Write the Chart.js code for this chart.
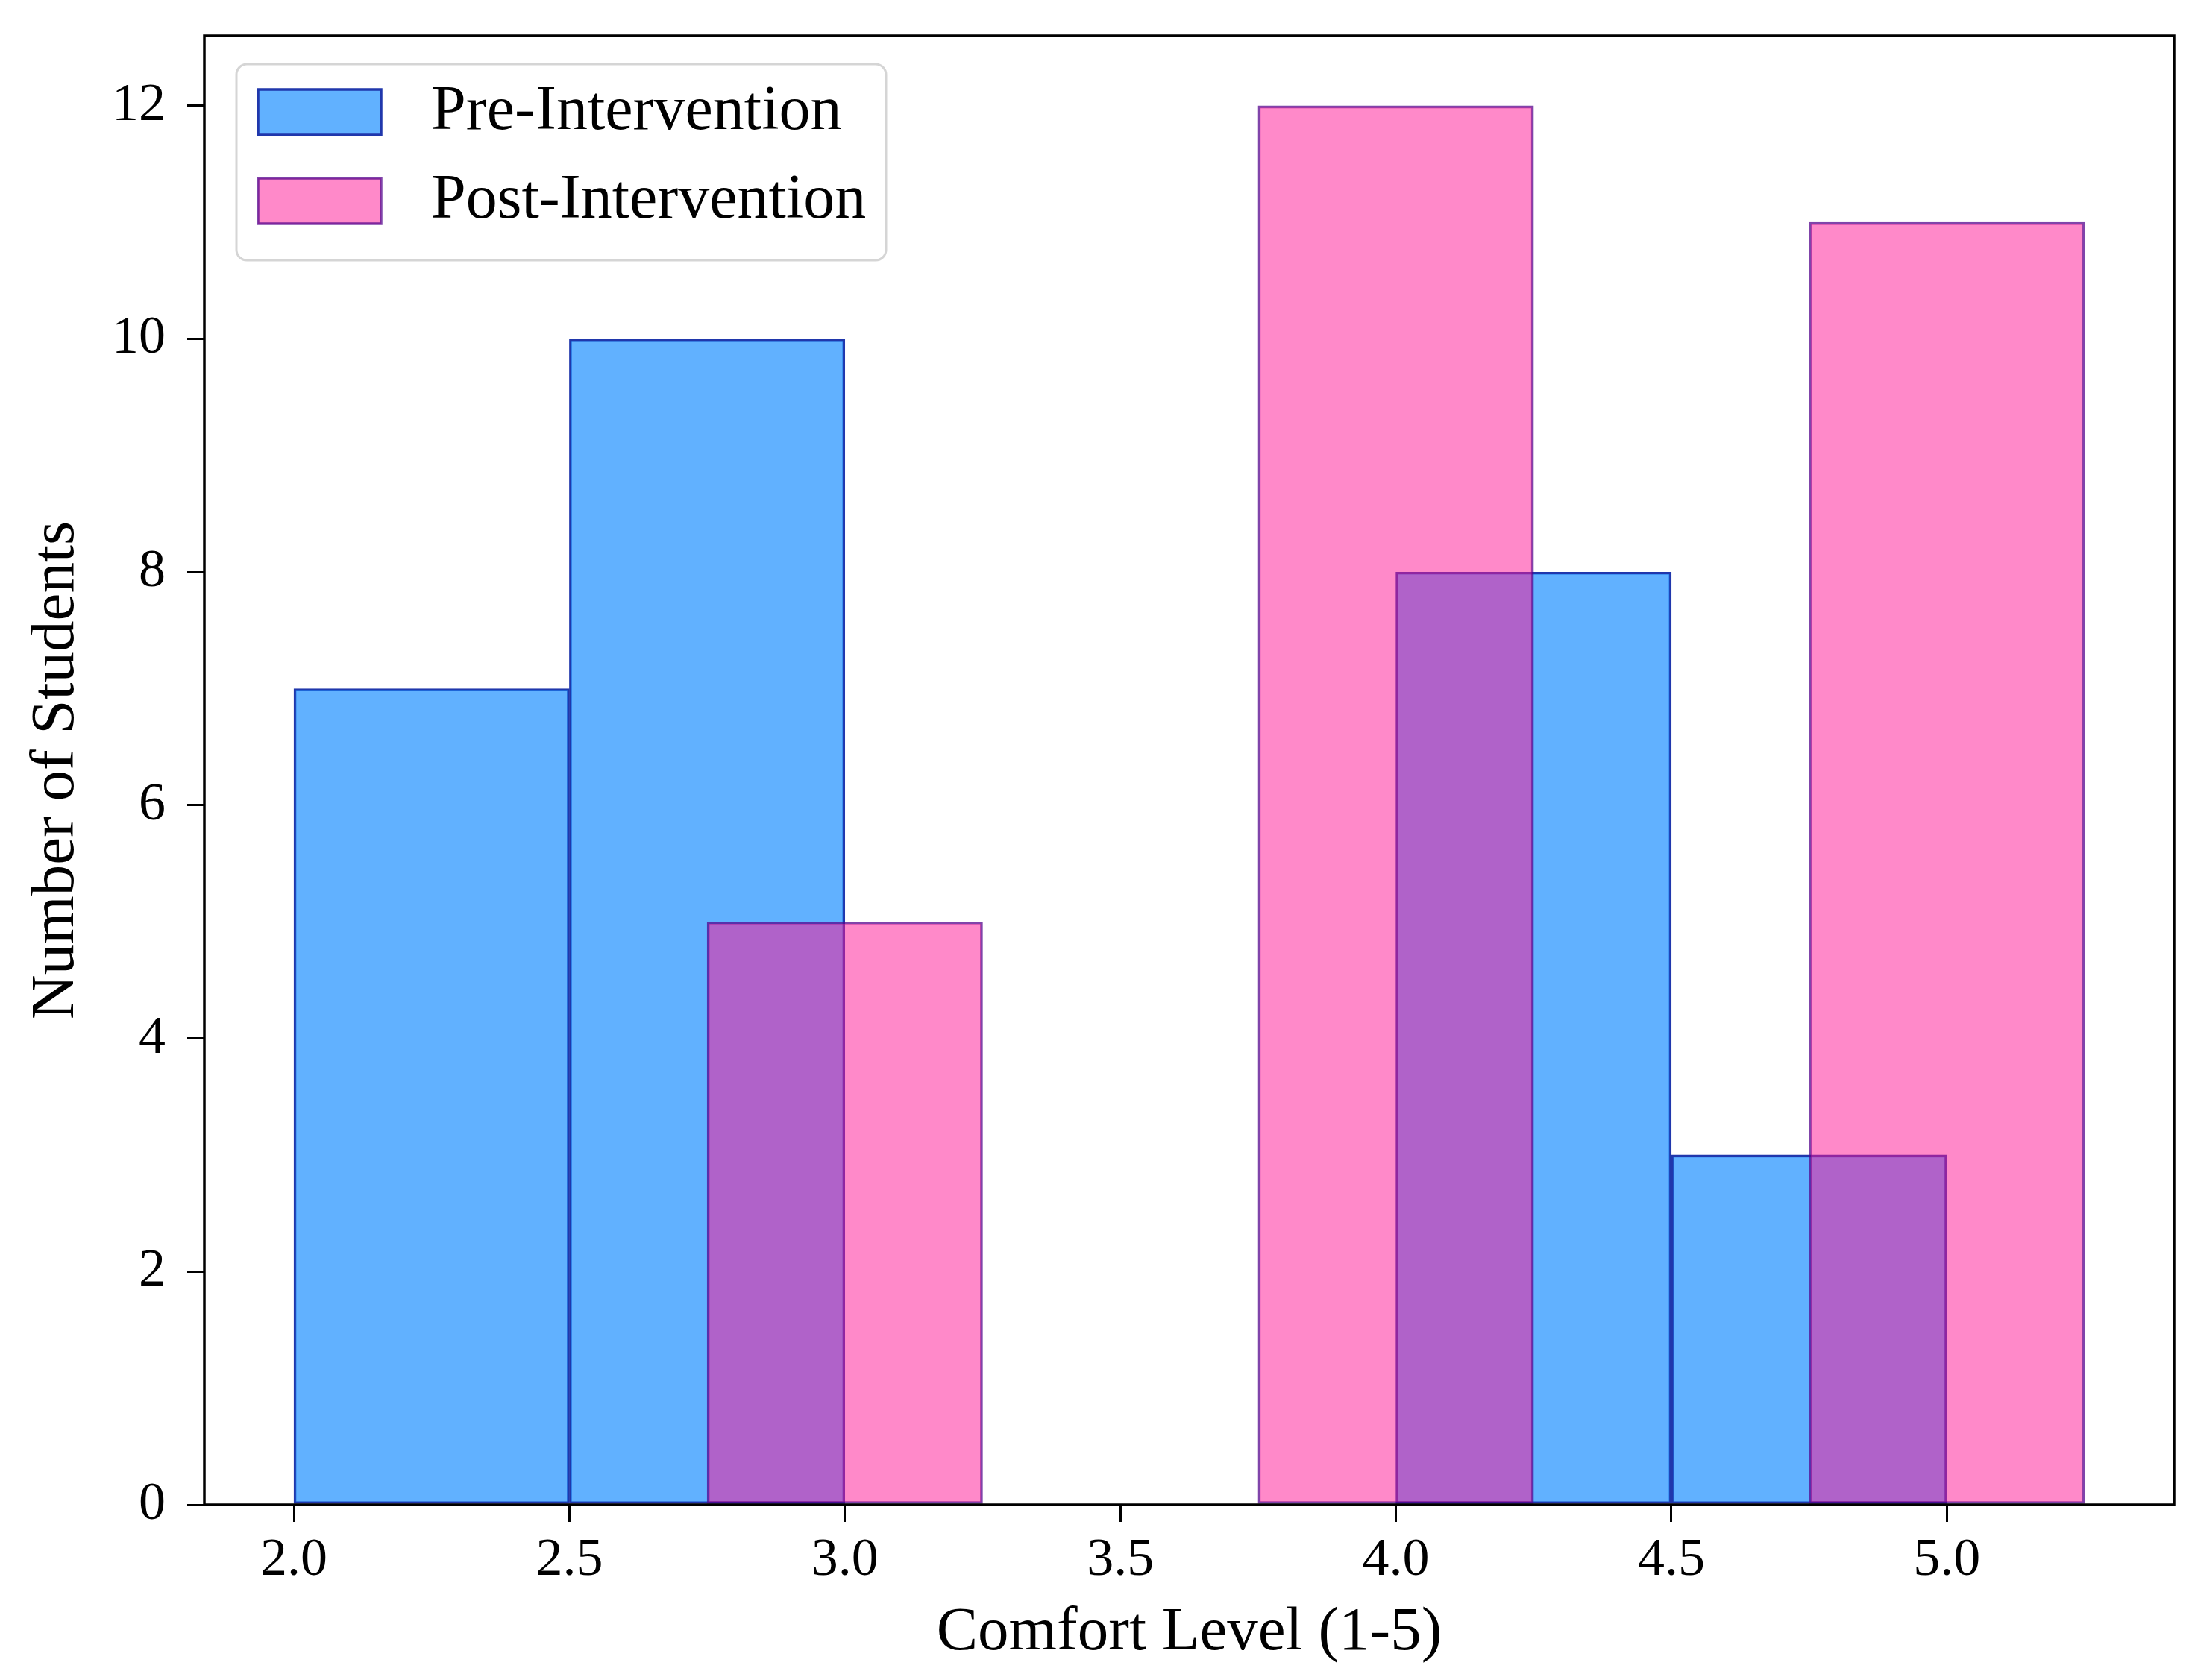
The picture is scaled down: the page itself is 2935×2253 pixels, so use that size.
<!DOCTYPE html>
<html>
<head>
<meta charset="utf-8">
<script src="https://cdn.jsdelivr.net/npm/chart.js@4.4.1/dist/chart.umd.min.js"></script>
<style>
  html, body { margin: 0; padding: 0; background: #fff; }
  #wrap { width: 2935px; height: 2253px; position: relative; }
</style>
</head>
<body>
<div id="wrap"><canvas id="myChart"></canvas></div>
<script>
// histogram bins (edges) and counts
const preBinEdges = [2.0, 2.5, 3.0, 3.5, 4.0, 4.5, 5.0];
const preCounts = [7, 10, 0, 0, 8, 3];
const postBinEdges = [2.75, 3.25, 3.75, 4.25, 4.75, 5.25];
const postCounts = [5, 0, 12, 0, 11];
const seriesLabels = ['Pre-Intervention', 'Post-Intervention'];
const xTickValues = [2.0, 2.5, 3.0, 3.5, 4.0, 4.5, 5.0];
const yTickValues = [0, 2, 4, 6, 8, 10, 12];

const serif = '"Liberation Serif", "Times New Roman", serif';

// one bar per bin, placed at the bin centre
const toBars = (edges, counts) => counts.map((c, i) => ({ x: (edges[i] + edges[i + 1]) / 2, y: c }));

// box round the plot + legend in the upper left
const frameAndLegend = {
    id: 'frameAndLegend',
    afterDatasetsDraw(chart) {
        const { ctx, chartArea: a } = chart;
        ctx.save();
        ctx.strokeStyle = '#000';
        ctx.lineWidth = 3.5;
        ctx.strokeRect(a.left, a.top, a.right - a.left, a.bottom - a.top);

        const bx = a.left + 43, by = a.top + 38, bw = 871, bh = 263;
        ctx.beginPath();
        ctx.roundRect(bx, by, bw, bh, 14);
        ctx.fillStyle = 'rgba(255,255,255,0.8)';
        ctx.fill();
        ctx.strokeStyle = '#d5d5d5';
        ctx.lineWidth = 3;
        ctx.stroke();

        ctx.font = '84px ' + serif;
        ctx.textBaseline = 'middle';
        ctx.textAlign = 'left';
        chart.data.datasets.forEach((ds, i) => {
            const py = by + 34 + i * 119;
            ctx.fillStyle = ds.backgroundColor;
            ctx.fillRect(bx + 29, py, 165, 61);
            ctx.strokeStyle = ds.borderColor;
            ctx.lineWidth = 3.5;
            ctx.strokeRect(bx + 29, py, 165, 61);
            ctx.fillStyle = '#000';
            ctx.fillText(ds.label, bx + 261, py + 31);
        });
        ctx.restore();
    }
};

// fixed axis sizes, no extra room for end labels
const fixAxis = (w, h) => s => {
    if (w !== null) s.width = w;
    if (h !== null) s.height = h;
    s.paddingTop = 0;
    s.paddingBottom = 0;
    s.paddingLeft = 0;
    s.paddingRight = 0;
};

const ctx = document.getElementById('myChart').getContext('2d');
new Chart(ctx, {
    type: 'bar',
    data: {
        datasets: [
            {
                label: seriesLabels[0],
                data: toBars(preBinEdges, preCounts),
                backgroundColor: 'rgba(30,144,255,0.7)',
                borderColor: 'rgb(32,55,172)',
                borderWidth: 3,
                borderSkipped: false,
                order: 1
            },
            {
                label: seriesLabels[1],
                data: toBars(postBinEdges, postCounts),
                backgroundColor: 'rgba(255,20,147,0.5)',
                borderColor: 'rgba(85,5,141,0.75)',
                borderWidth: 3,
                borderSkipped: false,
                order: 0
            }
        ]
    },
    options: {
        responsive: true,
        maintainAspectRatio: false,
        devicePixelRatio: 1,
        animation: false,
        barThickness: 'flex',
        barPercentage: 1,
        categoryPercentage: 1,
        layout: { padding: { top: 48, right: 20, left: 0, bottom: 0 } },
        plugins: {
            legend: { display: false },
            tooltip: { enabled: false }
        },
        scales: {
            x: {
                type: 'linear',
                min: 1.8375,
                max: 5.4125,
                offset: false,
                stacked: true,
                afterFit: fixAxis(null, 235),
                afterBuildTicks: s => { s.ticks = xTickValues.map(v => ({ value: v })); },
                grid: { display: true, offset: false, drawOnChartArea: false, drawTicks: true, tickLength: 23, color: '#000', lineWidth: 3 },
                border: { display: false },
                ticks: {
                    padding: 9,
                    color: '#000',
                    font: { family: serif, size: 72 },
                    maxRotation: 0,
                    callback: v => Number(v).toFixed(1)
                },
                title: {
                    display: true,
                    text: 'Comfort Level (1-5)',
                    color: '#000',
                    font: { family: serif, size: 83 },
                    padding: { top: 0, bottom: 13 }
                }
            },
            y: {
                min: 0,
                max: 12.6,
                stacked: false,
                afterFit: fixAxis(274, null),
                afterBuildTicks: s => { s.ticks = yTickValues.map(v => ({ value: v })); },
                grid: { display: true, drawOnChartArea: false, drawTicks: true, tickLength: 23, color: '#000', lineWidth: 3 },
                border: { display: false },
                ticks: {
                    padding: 29,
                    color: '#000',
                    font: { family: serif, size: 72 }
                },
                title: {
                    display: true,
                    text: 'Number of Students',
                    color: '#000',
                    font: { family: serif, size: 83 },
                    padding: { top: 26, bottom: 0 }
                }
            }
        }
    },
    plugins: [frameAndLegend]
});
</script>
</body>
</html>
